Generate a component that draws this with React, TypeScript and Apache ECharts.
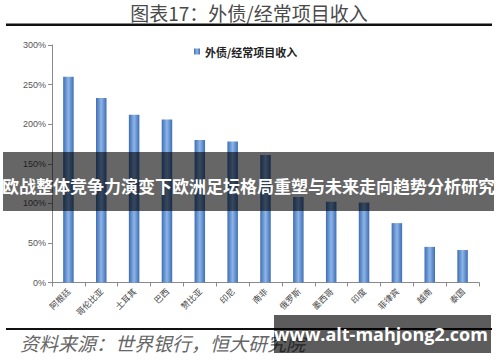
import React, { useEffect, useRef } from "react";
import * as echarts from "echarts";

const categories = ["阿根廷", "哥伦比亚", "土耳其", "巴西", "赞比亚", "印尼", "南非", "俄罗斯", "墨西哥", "印度", "菲律宾", "越南", "泰国"];
const ratioValues = [260, 233, 212, 206, 180, 178, 161, 108, 102, 101, 75, 45, 41];
const seriesName = "外债/经常项目收入";
const titleText = "图表17：外债/经常项目收入";
const sourceText = "资料来源：世界银行，恒大研究院";
const bannerText = "欧战整体竞争力演变下欧洲足坛格局重塑与未来走向趋势分析研究";
const watermarkText = "www.alt-mahjong2.com";

export default function App() {
  const ref = useRef<HTMLDivElement>(null);
  useEffect(() => {
    if (!ref.current) return;
    const chart = echarts.init(ref.current, null, { renderer: "svg" });
    const cjk = '"Noto Sans CJK SC", "Noto Sans", sans-serif';
    chart.setOption({
      animation: false,
      backgroundColor: "#ffffff",
      grid: { left: 52, right: 21, top: 45, bottom: 79.5 },
      legend: {
        data: [seriesName],
        left: 189,
        top: 41,
        icon: "rect",
        itemWidth: 6,
        itemHeight: 6,
        itemGap: 4,
        textStyle: { fontSize: 11, fontWeight: "bold", color: "#222", fontFamily: cjk },
      },
      xAxis: {
        type: "category",
        data: categories,
        axisLine: { lineStyle: { color: "#8a8a8a", width: 1 } },
        axisTick: { show: true, length: 4, lineStyle: { color: "#8a8a8a" } },
        axisLabel: { rotate: 45, fontSize: 8.5, color: "#444", fontFamily: cjk, margin: 7, interval: 0 },
      },
      yAxis: {
        type: "value",
        min: 0,
        max: 300,
        interval: 50,
        axisLine: { show: true, lineStyle: { color: "#8a8a8a", width: 1 } },
        axisTick: { show: true, length: 4, lineStyle: { color: "#8a8a8a" } },
        splitLine: { show: false },
        axisLabel: { formatter: "{value}%", fontSize: 9, color: "#555", fontFamily: '"Liberation Sans", Arial, sans-serif', margin: 6 },
      },
      series: [
        {
          name: seriesName,
          type: "bar",
          data: ratioValues,
          barWidth: 10.5,
          itemStyle: {
            color: new echarts.graphic.LinearGradient(0, 0, 1, 0, [
              { offset: 0, color: "#3e6db3" },
              { offset: 0.5, color: "#8cb5e8" },
              { offset: 1, color: "#3e6db3" },
            ]),
          },
        },
      ],
      graphic: [
        {
          type: "text",
          x: 249,
          y: 12,
          style: { text: titleText, fontSize: 19, fill: "#4a4a4a", fontFamily: cjk, align: "center", verticalAlign: "middle" },
        },
        {
          type: "rect",
          shape: { x: 6, y: 23.5, width: 486, height: 2.5 },
          style: { fill: "#111" },
        },
        {
          type: "rect",
          shape: { x: 6, y: 328, width: 486, height: 2 },
          style: { fill: "#111" },
        },
        {
          type: "text",
          x: 20,
          y: 342,
          style: { text: sourceText, fontSize: 19, fill: "#666", fontFamily: cjk, fontStyle: "italic", verticalAlign: "middle" },
        },
        {
          type: "rect",
          z: 100,
          shape: { x: 3, y: 152, width: 491, height: 59 },
          style: { fill: "rgba(0,0,0,0.6)" },
        },
        {
          type: "text",
          z: 101,
          x: 248.5,
          y: 185,
          style: {
            text: bannerText,
            fontSize: 17,
            fontWeight: "bold",
            fill: "#ffffff",
            fontFamily: cjk,
            align: "center",
            verticalAlign: "middle",
          },
        },
        {
          type: "rect",
          z: 100,
          shape: { x: 274, y: 315, width: 217, height: 38 },
          style: { fill: "rgba(0,0,0,0.64)" },
        },
        {
          type: "text",
          z: 101,
          x: 381,
          y: 334,
          style: {
            text: watermarkText,
            fontSize: 18,
            fontWeight: "bold",
            fill: "#ffffff",
            fontFamily: '"Open Sans", "DejaVu Sans", sans-serif',
            align: "center",
            verticalAlign: "middle",
          },
        },
      ],
    });
    return () => chart.dispose();
  }, []);
  return <div ref={ref} style={{ position: "fixed", left: 0, top: 0, width: 500, height: 362 }} />;
}
